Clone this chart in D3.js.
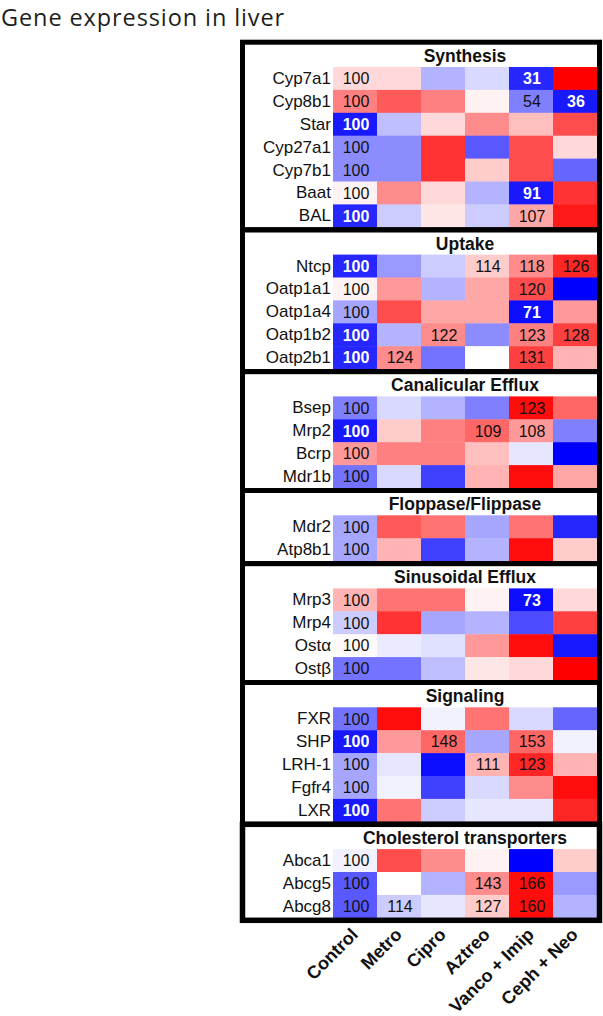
<!DOCTYPE html>
<html>
<head>
<meta charset="utf-8">
<script src="https://cdn.jsdelivr.net/npm/d3@7"></script>
<style>
  body { margin: 0; background: #fff; }
  svg { display: block; }
</style>
</head>
<body>
<div id="heatmap"></div>
<script>
/* Treatment groups along the bottom */
const treatments = ["Control", "Metro", "Cipro", "Aztreo", "Vanco + Imip", "Ceph + Neo"];

/* One title and one gene list per panel */
const panelTitles = ["Synthesis", "Uptake", "Canalicular Efflux", "Floppase/Flippase",
  "Sinusoidal Efflux", "Signaling", "Cholesterol transporters"];
const panelGenes = [
  ["Cyp7a1", "Cyp8b1", "Star", "Cyp27a1", "Cyp7b1", "Baat", "BAL"],
  ["Ntcp", "Oatp1a1", "Oatp1a4", "Oatp1b2", "Oatp2b1"],
  ["Bsep", "Mrp2", "Bcrp", "Mdr1b"],
  ["Mdr2", "Atp8b1"],
  ["Mrp3", "Mrp4", "Ostα", "Ostβ"],
  ["FXR", "SHP", "LRH-1", "Fgfr4", "LXR"],
  ["Abca1", "Abcg5", "Abcg8"]
];

/* Colour score of every cell (-1 = blue, 0 = white, 1 = red) */
const cellScores = [
  [0.15, 0.15, -0.3, -0.15, -0.85, 1.0],
  [0.5, 0.65, 0.5, 0.05, -0.5, -0.9],
  [-0.9, -0.25, 0.15, 0.45, 0.25, 0.7],
  [-0.45, -0.45, 0.8, -0.65, 0.7, 0.15],
  [-0.45, -0.45, 0.8, 0.2, 0.7, -0.6],
  [0.05, 0.45, 0.15, -0.3, -0.9, 0.8],
  [-0.85, -0.2, 0.1, -0.2, 0.35, 0.9],

  [-0.85, -0.4, -0.2, 0.2, 0.45, 0.85],
  [0.05, 0.4, -0.3, 0.35, 0.7, -1.0],
  [-0.35, 0.7, 0.35, 0.35, -0.95, 0.4],
  [-0.85, -0.3, 0.45, -0.45, 0.5, 0.75],
  [-0.85, 0.45, -0.55, 0.0, 0.75, 0.3],

  [-0.5, -0.15, -0.3, -0.5, 0.95, 0.6],
  [-0.9, 0.2, 0.5, 0.6, 0.4, -0.5],
  [0.4, 0.5, 0.5, 0.25, -0.1, -1.0],
  [-0.55, -0.15, -0.75, 0.3, 0.95, 0.35],

  [-0.35, 0.65, 0.55, -0.35, 0.55, -0.85],
  [-0.35, 0.3, -0.75, -0.3, 0.95, 0.2],

  [0.3, 0.55, 0.55, 0.05, -0.95, 0.15],
  [-0.2, 0.8, -0.35, -0.3, -0.7, 0.75],
  [0.02, -0.08, -0.12, 0.4, 0.95, -0.9],
  [-0.55, -0.55, -0.25, 0.1, 0.15, 1.0],

  [-0.55, 0.95, -0.05, 0.55, -0.15, -0.6],
  [-0.9, 0.4, 0.6, -0.35, 0.6, -0.05],
  [-0.35, -0.1, -0.95, 0.3, 0.85, 0.3],
  [-0.35, -0.05, -0.75, -0.15, 0.45, 0.95],
  [-0.9, 0.55, -0.2, -0.1, -0.1, 0.85],

  [-0.05, 0.7, 0.45, 0.05, -1.0, 0.2],
  [-0.65, 0.0, -0.3, 0.45, 0.95, -0.4],
  [-0.65, -0.2, -0.1, 0.2, 0.95, -0.3]
];

/* Numbers printed in the cells (% of control), blank where none is shown */
const cellLabels = [
  ["100", "", "", "", "31", ""],
  ["100", "", "", "", "54", "36"],
  ["100", "", "", "", "", ""],
  ["100", "", "", "", "", ""],
  ["100", "", "", "", "", ""],
  ["100", "", "", "", "91", ""],
  ["100", "", "", "", "107", ""],

  ["100", "", "", "114", "118", "126"],
  ["100", "", "", "", "120", ""],
  ["100", "", "", "", "71", ""],
  ["100", "", "122", "", "123", "128"],
  ["100", "124", "", "", "131", ""],

  ["100", "", "", "", "123", ""],
  ["100", "", "", "109", "108", ""],
  ["100", "", "", "", "", ""],
  ["100", "", "", "", "", ""],

  ["100", "", "", "", "", ""],
  ["100", "", "", "", "", ""],

  ["100", "", "", "", "73", ""],
  ["100", "", "", "", "", ""],
  ["100", "", "", "", "", ""],
  ["100", "", "", "", "", ""],

  ["100", "", "", "", "", ""],
  ["100", "", "148", "", "153", ""],
  ["100", "", "", "111", "123", ""],
  ["100", "", "", "", "", ""],
  ["100", "", "", "", "", ""],

  ["100", "", "", "", "", ""],
  ["100", "", "", "143", "166", ""],
  ["100", "114", "", "127", "160", ""]
];

const width = 603, height = 1016;
const rowH = 22.9,      // height of one gene row
      titleH = 22.3,    // space for the panel heading
      border = 5,
      firstRow = 67;
const font = "'Liberation Sans', Arial, sans-serif";

const svg = d3.select("#heatmap")
  .append("svg")
    .attr("width", width)
    .attr("height", height);

svg.append("text")
  .attr("x", 1)
  .attr("y", 25.5)
  .style("font-family", "'Open Sans', sans-serif")
  .style("font-size", "23.5px")
  .style("letter-spacing", "0.9px")
  .attr("fill", "#1e1e1e")
  .text("Gene expression in liver");

// Scales
const x = d3.scaleBand()
    .domain(treatments)
    .range([333, 597]);
const color = d3.scaleLinear()
    .domain([-1, 0, 1])
    .range(["#0000ff", "#ffffff", "#ff0000"]);

const gCells = svg.append("g");
const gText = svg.append("g");
const gBox = svg.append("g");

let yTop = firstRow, r = 0;
panelGenes.forEach((genes, p) => {
  const y = d3.scaleBand()
      .domain(genes)
      .range([yTop, yTop + genes.length * rowH]);

  const cells = [];
  genes.forEach((g, i) => treatments.forEach((t, j) => {
    cells.push({gene: g, treat: t, score: cellScores[r + i][j], label: cellLabels[r + i][j]});
  }));

  gCells.append("g")
    .selectAll("rect")
    .data(cells)
    .join("rect")
      .attr("x", d => x(d.treat))
      .attr("y", d => y(d.gene))
      .attr("width", x.bandwidth() + 0.5)
      .attr("height", y.bandwidth() + 0.5)
      .attr("fill", d => color(d.score));

  // numbers inside the cells, white on the dark blue ones
  gText.append("g")
    .selectAll("text")
    .data(cells.filter(d => d.label !== ""))
    .join("text")
      .attr("x", d => x(d.treat) + x.bandwidth() / 2 + 1)
      .attr("y", d => y(d.gene) + y.bandwidth() / 2)
      .attr("dy", "0.36em")
      .attr("text-anchor", "middle")
      .style("font-family", font)
      .style("font-size", "16px")
      .style("font-weight", d => d.score < -0.75 ? "bold" : "normal")
      .attr("fill", d => d.score < -0.75 ? "#fff" : "#111")
      .text(d => d.label);

  // gene names on the left
  gText.append("g")
      .attr("transform", "translate(331,0)")
      .call(d3.axisLeft(y).tickSize(0).tickPadding(0))
      .call(g => g.select(".domain").remove())
      .selectAll("text")
        .style("font-family", font)
        .style("font-size", "17px")
        .attr("fill", "#111");

  // panel heading
  gText.append("text")
    .attr("x", (x.range()[0] + x.range()[1]) / 2)
    .attr("y", yTop - 5)
    .attr("text-anchor", "middle")
    .style("font-family", font)
    .style("font-size", "17.5px")
    .style("font-weight", "bold")
    .attr("fill", "#111")
    .text(panelTitles[p]);

  // black frame round the panel
  const yBottom = yTop + genes.length * rowH;
  gBox.append("rect")
    .attr("x", 242.5)
    .attr("y", yTop - titleH - border / 2)
    .attr("width", 357)
    .attr("height", yBottom - yTop + titleH + border)
    .attr("fill", "none")
    .attr("stroke", "#000")
    .attr("stroke-width", p === panelGenes.length - 1 ? 5.5 : border);

  r += genes.length;
  yTop = yBottom + titleH + border;
});

// treatment names, turned 45 degrees under the last panel
const axisY = yTop - titleH - border + 3;
svg.append("g")
    .attr("transform", `translate(0,${axisY})`)
    .call(d3.axisBottom(x).tickSize(0).tickPadding(0))
    .call(g => g.select(".domain").remove())
    .selectAll("text")
      .attr("y", null)
      .attr("dy", null)
      .attr("text-anchor", "end")
      .attr("transform", "translate(4,15) rotate(-45)")
      .style("font-family", font)
      .style("font-size", "18px")
      .style("font-weight", "bold")
      .attr("fill", "#111");
</script>
</body>
</html>
